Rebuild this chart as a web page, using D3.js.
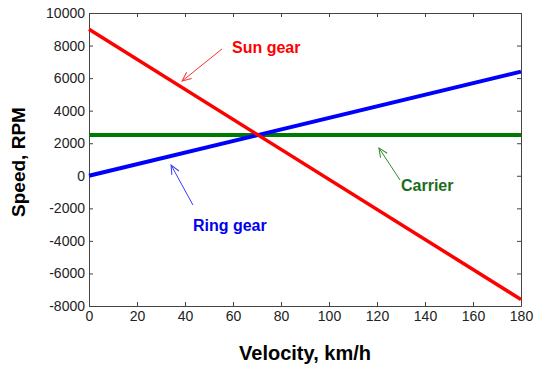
<!DOCTYPE html>
<html>
<head>
<meta charset="utf-8">
<script src="https://cdn.jsdelivr.net/npm/d3@7"></script>
<style>
  body { margin: 0; background: #fff; }
  .tick text { font-family: "Liberation Sans", Arial, sans-serif; font-size: 14px; fill: #222; }
  .axis path, .axis line { stroke: #444; }
</style>
</head>
<body>
<div id="chart"></div>
<script>
// velocity (km/h) and gear speeds (RPM), straight lines so endpoints are enough
const velocity = [0, 180];
const sunGear = [9000, -7600];
const ringGear = [0, 6400];
const carrier = [2500, 2500];

const xTicks = [0, 20, 40, 60, 80, 100, 120, 140, 160, 180];
const yTicks = [-8000, -6000, -4000, -2000, 0, 2000, 4000, 6000, 8000, 10000];

// annotation anchors in data units: label, label pos, arrow tail, arrow tip
const labels = ["Sun gear", "Ring gear", "Carrier"];
const labelPos = [[59.6, 7540], [43.3, -3390], [130, -935]];
const arrowTail = [[55.4, 7790], [43.3, -1795], [129.6, -260]];
const arrowTip = [[38.8, 5820], [34.2, 660], [120.8, 1710]];

const width = 534, height = 365;
const margin = {top: 13, right: 13, bottom: 59, left: 89};
const w = width - margin.left - margin.right;
const h = height - margin.top - margin.bottom;

const svg = d3.select("#chart").append("svg")
  .attr("width", width)
  .attr("height", height);

const g = svg.append("g")
  .attr("transform", `translate(${margin.left},${margin.top})`);

const x = d3.scaleLinear().domain([0, 180]).range([0, w]);
const y = d3.scaleLinear().domain([-8000, 10000]).range([h, 0]);

const plain = d => String(d);

// box axes, ticks pointing inward like matlab
g.append("g").attr("class", "axis")
  .attr("transform", `translate(0,${h})`)
  .call(d3.axisBottom(x).tickValues(xTicks).tickFormat(plain).tickSizeInner(-4).tickSizeOuter(0).tickPadding(5));
g.append("g").attr("class", "axis")
  .call(d3.axisLeft(y).tickValues(yTicks).tickFormat(plain).tickSizeInner(-4).tickSizeOuter(0).tickPadding(4));
g.append("g").attr("class", "axis")
  .call(d3.axisTop(x).tickValues(xTicks).tickSizeInner(-4).tickSizeOuter(0).tickFormat(""));
g.append("g").attr("class", "axis")
  .attr("transform", `translate(${w},0)`)
  .call(d3.axisRight(y).tickValues(yTicks).tickSizeInner(-4).tickSizeOuter(0).tickFormat(""));

const line = d3.line()
  .x((d, i) => x(velocity[i]))
  .y(d => y(d));

g.append("path").datum(carrier)
  .attr("d", line).attr("fill", "none")
  .attr("stroke", "#007a00").attr("stroke-width", 4);
g.append("path").datum(ringGear)
  .attr("d", line).attr("fill", "none")
  .attr("stroke", "#0000ff").attr("stroke-width", 4);
g.append("path").datum(sunGear)
  .attr("d", line).attr("fill", "none")
  .attr("stroke", "#ff0000").attr("stroke-width", 3.5);

// annotations
const arrowColors = ["#ff3030", "#3a3aff", "#2e8b2e"];
const textColors = ["#ff0000", "#0000ee", "#1a6e1a"];

const defs = svg.append("defs");
arrowColors.forEach((c, i) => {
  defs.append("marker")
    .attr("id", "arrow" + i)
    .attr("viewBox", "-10 -5 12 10")
    .attr("refX", 0).attr("refY", 0)
    .attr("markerWidth", 12).attr("markerHeight", 10)
    .attr("markerUnits", "userSpaceOnUse")
    .attr("orient", "auto")
    .append("path")
    .attr("d", "M-9,-4 L0,0 L-9,4")
    .attr("fill", "none")
    .attr("stroke", c)
    .attr("stroke-width", 1);
});

labels.forEach((t, i) => {
  g.append("line")
    .attr("x1", x(arrowTail[i][0])).attr("y1", y(arrowTail[i][1]))
    .attr("x2", x(arrowTip[i][0])).attr("y2", y(arrowTip[i][1]))
    .attr("stroke", arrowColors[i])
    .attr("stroke-width", 1)
    .attr("marker-end", `url(#arrow${i})`);
  g.append("text")
    .attr("x", x(labelPos[i][0]))
    .attr("y", y(labelPos[i][1]))
    .attr("fill", textColors[i])
    .style("font-family", "'Liberation Sans', Arial, sans-serif")
    .style("font-weight", "bold")
    .style("font-size", "16px")
    .text(t);
});

// axis titles
svg.append("text")
  .attr("x", margin.left + w / 2)
  .attr("y", 360)
  .attr("text-anchor", "middle")
  .style("font-family", "'Liberation Sans', Arial, sans-serif")
  .style("font-weight", "bold")
  .style("font-size", "20px")
  .text("Velocity, km/h");

svg.append("text")
  .attr("transform", "translate(25,162) rotate(-90)")
  .attr("text-anchor", "middle")
  .style("font-family", "'Liberation Sans', Arial, sans-serif")
  .style("font-weight", "bold")
  .style("font-size", "19px")
  .text("Speed, RPM");
</script>
</body>
</html>
